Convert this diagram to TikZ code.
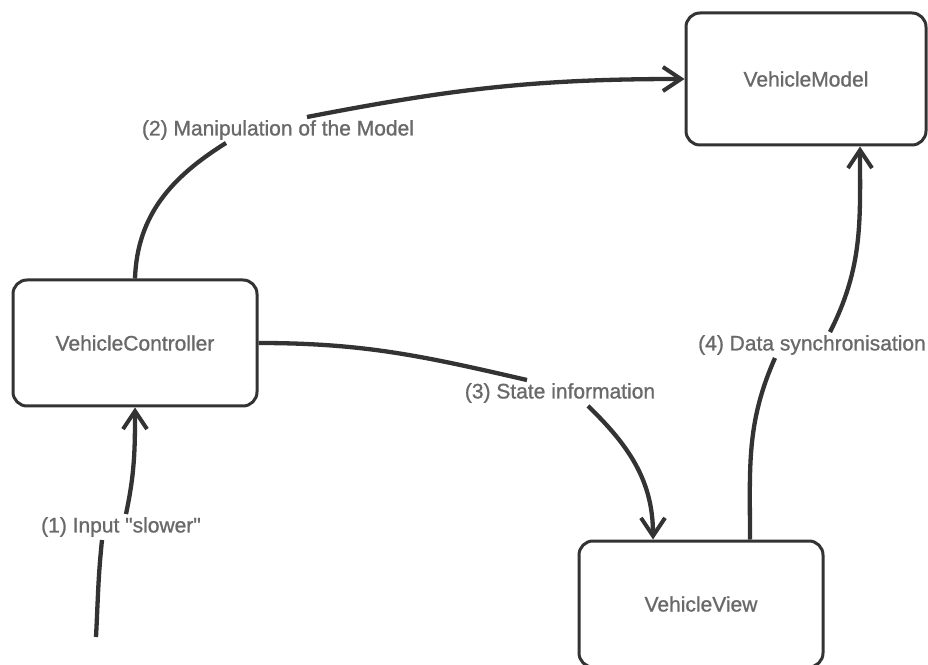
\documentclass[tikz,border=0pt]{standalone}
\usepackage{fontspec}
\setmainfont{Liberation Sans}[FakeBold=1]
\usetikzlibrary{arrows.meta}
\definecolor{linec}{RGB}{51,51,51}
\definecolor{textc}{RGB}{105,105,105}
\begin{document}
\begin{tikzpicture}[x=1pt,y=1pt,
  box/.style={draw=linec, line width=3pt, rounded corners=14pt, fill=white,
    text=textc, font=\fontsize{21}{25}\selectfont, inner sep=0pt},
  lbl/.style={text=textc, font=\fontsize{21}{25}\selectfont, inner sep=3pt},
  conn/.style={draw=linec, line width=4.3pt},
  arr/.style={conn, -{Straight Barb[length=18pt,width=24pt,line width=4pt]}}]
\useasboundingbox (0,0) rectangle (928,664);
\fill[white] (0,0) rectangle (928,664);
\clip (0,0) rectangle (928,664);

% boxes
\node[box, minimum width=244pt, minimum height=126pt] (ctrl) at (135,321) {VehicleController};
\node[box, minimum width=240pt, minimum height=132pt] (model) at (806,585) {VehicleModel};
\node[box, minimum width=244pt, minimum height=126pt] (view) at (701,60) {VehicleView};

% labels
\node[lbl] (l1) at (121,137) {(1) Input \textquotedbl slower\textquotedbl};
\node[lbl] (l2) at (278,534) {(2) Manipulation of the Model};
\node[lbl] (l3) at (560,271) {(3) State information};
\node[lbl] (l4) at (812,319) {(4) Data synchronisation};

\coordinate (in) at (96,27);

% (1)
\draw[conn] (in) to[out=87, in=-96] ([xshift=-19pt]l1.south);
\draw[arr] ([xshift=5pt]l1.north) to[out=78, in=-90] (ctrl.south);

% (2)
\draw[conn] (ctrl.north) to[out=88, in=212] ([xshift=-52pt]l2.south);
\draw[arr] ([xshift=29pt]l2.north) to[out=11, in=180] (model.west);

% (3)
\draw[conn] (ctrl.east) to[out=0, in=167] ([xshift=-33pt]l3.north);
\draw[arr] ([xshift=28pt]l3.south) to[out=-44, in=90] ([xshift=-48pt]view.north);

% (4)
\draw[conn] ([xshift=49pt]view.north) to[out=90, in=246] ([xshift=-37pt]l4.south);
\draw[arr] ([xshift=18pt]l4.north) to[out=63, in=-90] ([xshift=54pt]model.south);
\end{tikzpicture}
\end{document}
